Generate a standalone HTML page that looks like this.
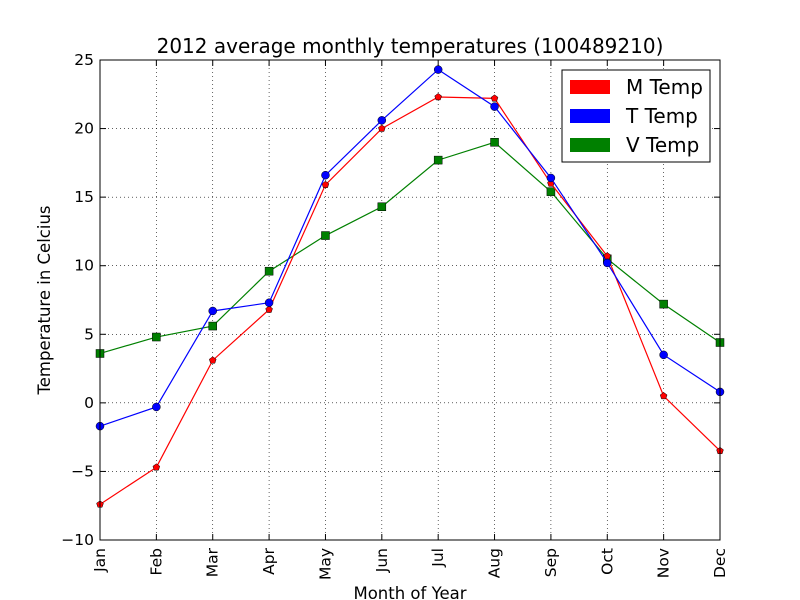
<!DOCTYPE html>
<html><head><meta charset="utf-8"><style>
html,body{margin:0;padding:0;background:#fff;}
svg{display:block;font-family:"DejaVu Sans","Liberation Sans",sans-serif;}
</style></head><body>
<svg id="chart" width="800" height="600" viewBox="0 0 800 600">
<rect x="0" y="0" width="800" height="600" fill="#fff"/>
<g id="grid"></g>
<g id="series"></g>
<rect x="100" y="60" width="620" height="480" fill="none" stroke="#000" stroke-width="1"/>
<g id="ticks"></g>
<text x="410" y="53" font-size="20" text-anchor="middle">2012 average monthly temperatures (100489210)</text>
<text x="410" y="599" font-size="16.5" text-anchor="middle">Month of Year</text>
<text x="50" y="300" font-size="16.5" text-anchor="middle" transform="rotate(-90 50 300)">Temperature in Celcius</text>
<g>
<rect x="562" y="70" width="148" height="92" fill="#fff" stroke="#000" stroke-width="1"/>
<g><rect x="570" y="80" width="40" height="14" fill="#ff0000"/><text x="626" y="94" font-size="20">M Temp</text></g>
<g><rect x="570" y="109" width="40" height="14" fill="#0000ff"/><text x="626" y="123" font-size="20">T Temp</text></g>
<g><rect x="570" y="138" width="40" height="14" fill="#008000"/><text x="626" y="152" font-size="20">V Temp</text></g>
</g>
</svg>
<script>
const months = ["Jan","Feb","Mar","Apr","May","Jun","Jul","Aug","Sep","Oct","Nov","Dec"];
const mTemp = [-7.4,-4.7,3.1,6.8,15.9,20.0,22.3,22.2,16.0,10.7,0.5,-3.5];
const tTemp = [-1.7,-0.3,6.7,7.3,16.6,20.6,24.3,21.6,16.4,10.2,3.5,0.8];
const vTemp = [3.6,4.8,5.6,9.6,12.2,14.3,17.7,19.0,15.4,10.5,7.2,4.4];
const yTicks = [-10,-5,0,5,10,15,20,25];

const NS = "http://www.w3.org/2000/svg";
const X0 = 100, X1 = 720, Y0 = 540, Y1 = 60, YMIN = -10, YMAX = 25;
function xScale(i){ return X0 + i*(X1-X0)/(months.length-1); }
function yScale(v){ return Y0 - (v-YMIN)*(Y0-Y1)/(YMAX-YMIN); }
function mk(tag, attrs, parent){ const e=document.createElementNS(NS,tag); for(const k in attrs) e.setAttribute(k,attrs[k]); parent.appendChild(e); return e; }

const grid = document.getElementById('grid');
const ticks = document.getElementById('ticks');
months.forEach((m,i)=>{
  const x = xScale(i);
  const g = mk('line',{x1:x,x2:x,y1:Y1,y2:Y0,stroke:'#000','stroke-width':0.6,'stroke-dasharray':'1,3'},grid);
  
  
  const t1 = mk('line',{x1:x,x2:x,y1:Y0,y2:Y0-6,stroke:'#000'},ticks);
  
  
  const t2 = mk('line',{x1:x,x2:x,y1:Y1,y2:Y1+6,stroke:'#000'},ticks);
  
  
  const lbl = mk('text',{x:x+5,y:548,'font-size':15.5,'text-anchor':'end',transform:`rotate(-90 ${x+5} 548)`},ticks);
  lbl.textContent = m;
  
  
});
yTicks.forEach(v=>{
  const y = yScale(v);
  const g = mk('line',{x1:X0,x2:X1,y1:y,y2:y,stroke:'#000','stroke-width':0.6,'stroke-dasharray':'1,3'},grid);
  
  
  const t1 = mk('line',{x1:X0,x2:X0+6,y1:y,y2:y,stroke:'#000'},ticks);
  
  
  const t2 = mk('line',{x1:X1,x2:X1-6,y1:y,y2:y,stroke:'#000'},ticks);
  
  
  const lbl = mk('text',{x:94,y:y+5,'font-size':15.5,'text-anchor':'end'},ticks);
  lbl.textContent = v < 0 ? '\u2212'+Math.abs(v) : String(v);
  
  
});

const seriesG = document.getElementById('series');
function drawSeries(vals, color, marker, name){
  const g = mk('g',{},seriesG);
  
  
  const pts = vals.map((v,i)=>xScale(i)+','+yScale(v)).join(' ');
  const pl = mk('polyline',{points:pts,fill:'none',stroke:color,'stroke-width':1.2},g);
  
  
  vals.forEach((v,i)=>{
    const x=xScale(i), y=yScale(v); let p;
    if(marker==='circle') p = mk('circle',{cx:x,cy:y,r:4,fill:color,stroke:'#000','stroke-width':0.5},g);
    else if(marker==='square') p = mk('rect',{x:x-4,y:y-4,width:8,height:8,fill:color,stroke:'#000','stroke-width':0.5},g);
    else {
      const r=3.6, a=[];
      for(let k=0;k<5;k++){ const ang=-Math.PI/2+k*2*Math.PI/5; a.push((x+r*Math.cos(ang))+','+(y+r*Math.sin(ang))); }
      p = mk('polygon',{points:a.join(' '),fill:color,stroke:'#000','stroke-width':0.5},g);
    }
    
    
  });
}
drawSeries(vTemp,'#008000','square','v-temp');
drawSeries(mTemp,'#ff0000','pentagon','m-temp');
drawSeries(tTemp,'#0000ff','circle','t-temp');
</script>
</body></html>
